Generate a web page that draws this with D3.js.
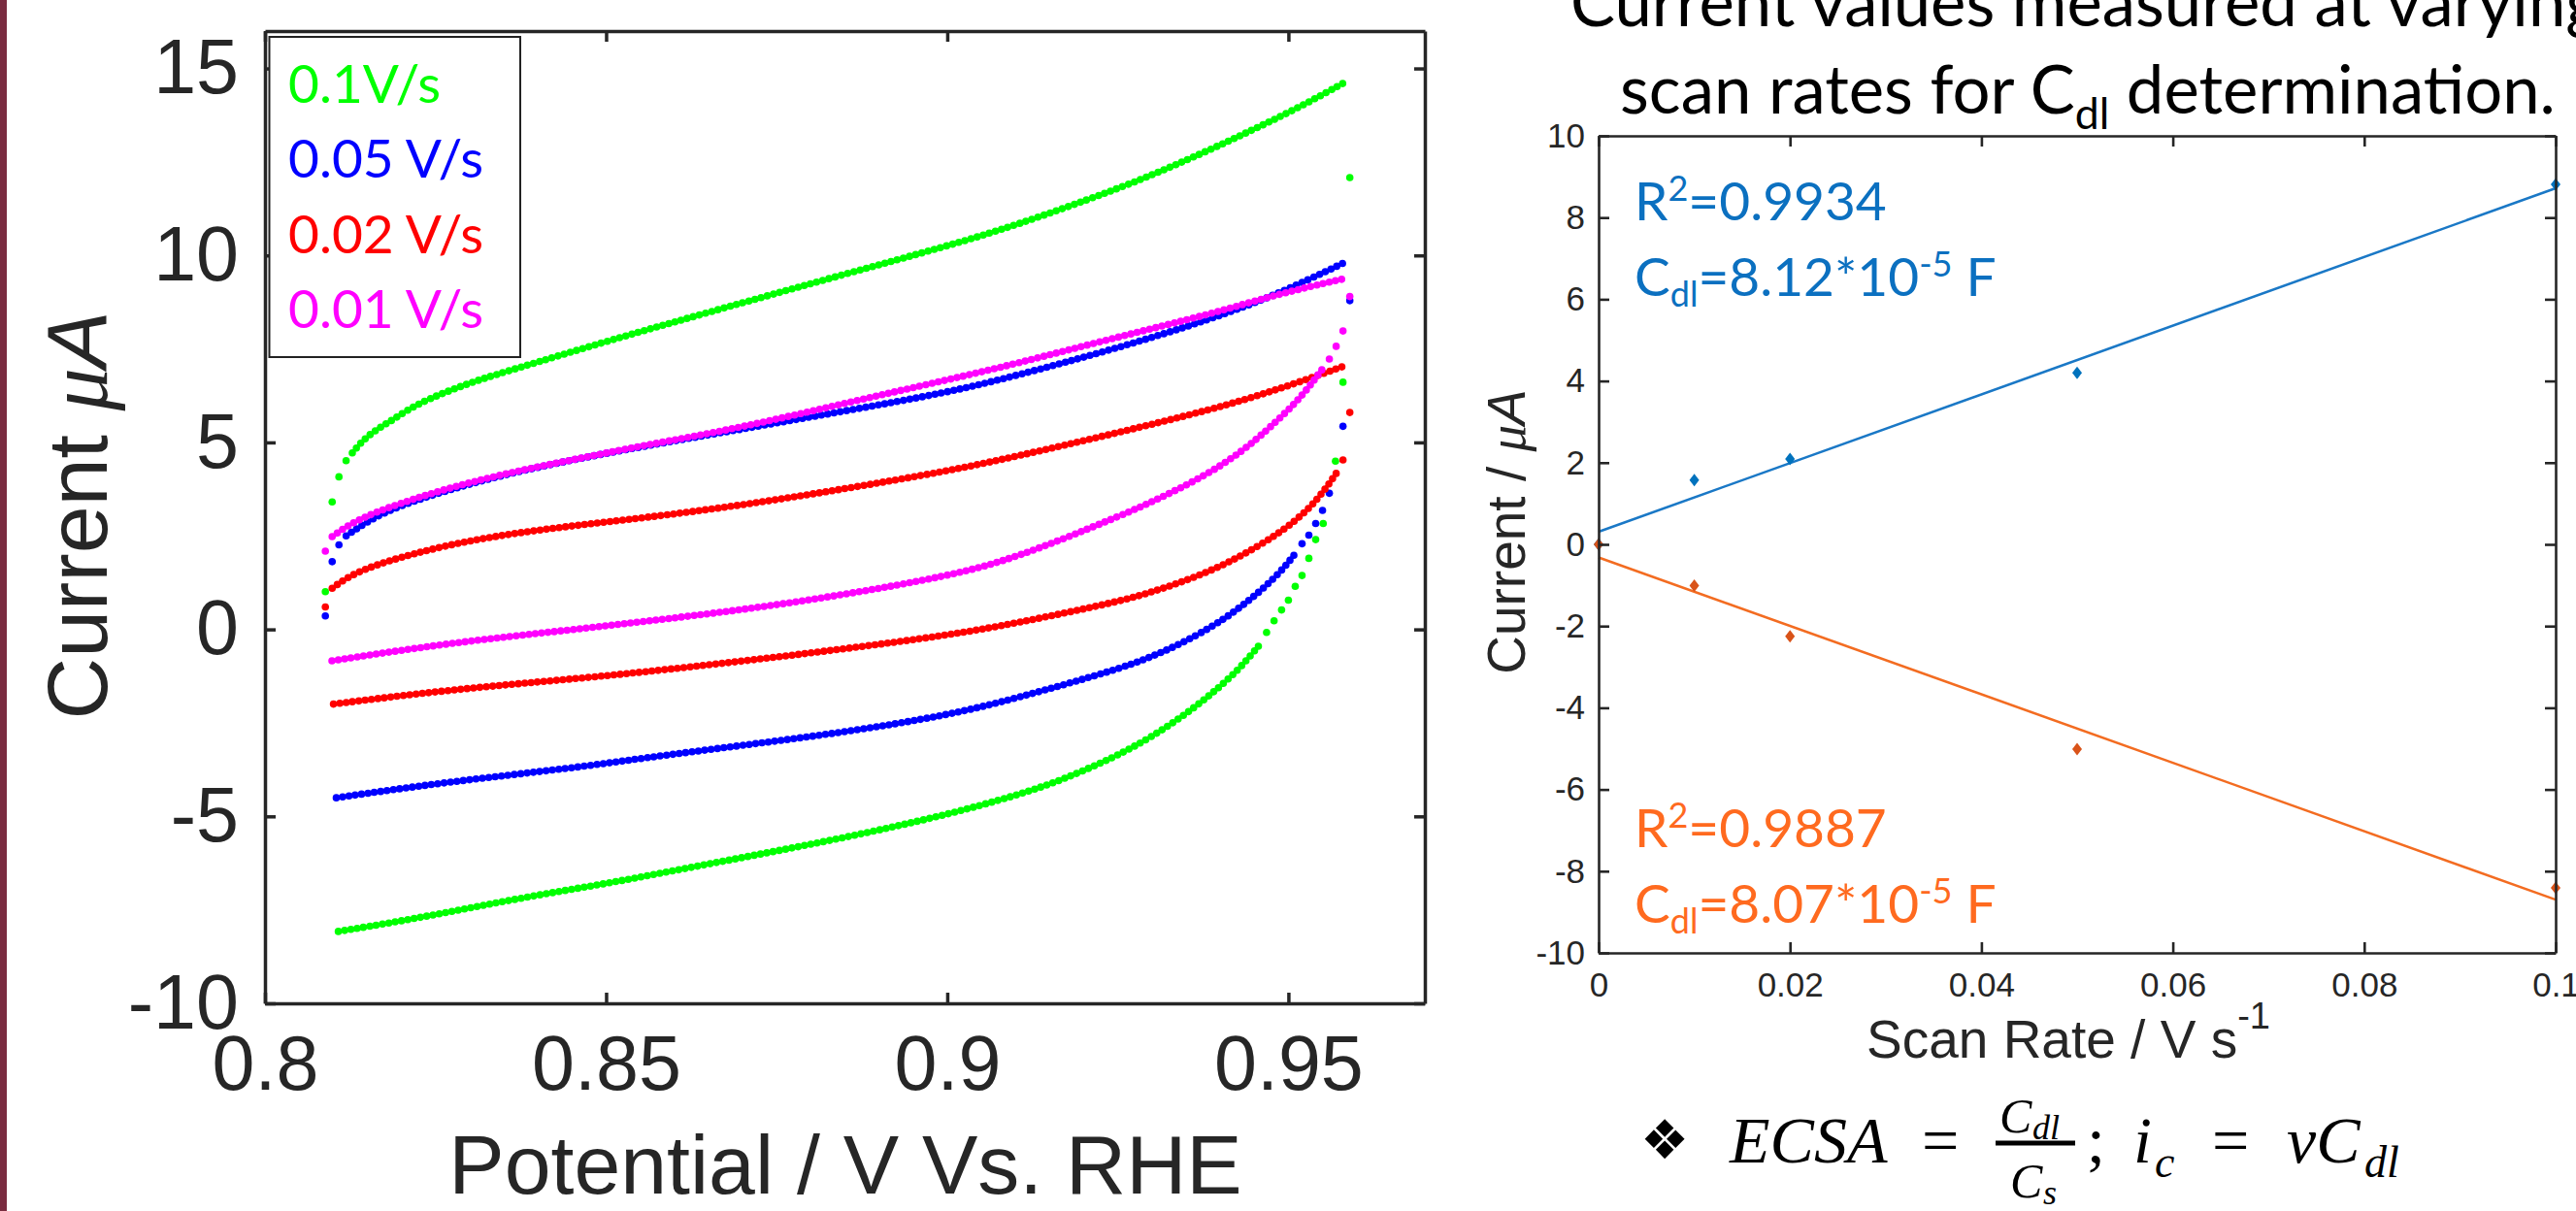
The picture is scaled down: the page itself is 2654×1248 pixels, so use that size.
<!DOCTYPE html>
<meta charset="utf-8">
<style>
body { margin: 0; background: #fff; }
svg { display: block; }
text { font-family: "Liberation Sans", Arial, sans-serif; fill: #262626; }
.cal { font-family: Lato, "Open Sans", sans-serif; }
.math { font-family: "Liberation Serif", serif; font-style: italic; fill: #000; }
</style>
<svg width="2654" height="1248"></svg>
<script src="https://d3js.org/d3.v7.min.js"></script>
<script>

// ---- left panel: CV curves, [potential V, current uA] ----
// sparse dots at the start, dense forward branch, sparse dots at the turn, dense reverse branch

var green_start = [[0.80885, 1.01], [0.80985, 3.41], [0.81084, 4.08], [0.81189, 4.51]];
var green_fwd = [[0.8128, 4.72], [0.8138, 4.94], [0.815, 5.16], [0.8169, 5.41], [0.819, 5.63], [0.8218, 5.98],
  [0.8266, 6.36], [0.8313, 6.67], [0.836, 6.93], [0.85, 7.7], [0.86, 8.22], [0.8703, 8.75], [0.885, 9.5],
  [0.9, 10.25], [0.91, 10.8], [0.9246, 11.75], [0.9317, 12.28], [0.9388, 12.85], [0.9435, 13.25],
  [0.951, 13.9], [0.958, 14.6]];
var green_turn = [[0.959, 12.08], [0.958, 6.61], [0.9569, 4.5], [0.9551, 2.83], [0.954, 2.4], [0.953, 1.9],
  [0.952, 1.44], [0.951, 1.15], [0.95, 0.78], [0.949, 0.52], [0.9479, 0.23], [0.9468, -0.08]];
var green_rev = [[0.9456, -0.45], [0.944, -0.8], [0.9426, -1.08], [0.9407, -1.41], [0.9388, -1.71],
  [0.936, -2.12], [0.9326, -2.56], [0.9293, -2.94], [0.9247, -3.4], [0.917, -4.02], [0.91, -4.45],
  [0.9, -4.95], [0.89, -5.37], [0.88, -5.75], [0.87, -6.1], [0.86, -6.45], [0.85, -6.8], [0.84, -7.1],
  [0.83, -7.45], [0.82, -7.8], [0.81, -8.1]];

var blue_start = [[0.80885, 0.36], [0.80985, 1.81], [0.81084, 2.26]];
var blue_fwd = [[0.8119, 2.5], [0.8171, 3.15], [0.8266, 3.72], [0.836, 4.18], [0.8455, 4.55], [0.855, 4.88],
  [0.87, 5.36], [0.885, 5.84], [0.9, 6.33], [0.91, 6.78], [0.9246, 7.5], [0.9388, 8.3], [0.9483, 8.95],
  [0.958, 9.79]];
var blue_turn = [[0.959, 8.79], [0.958, 5.43], [0.956, 3.64], [0.955, 3.18], [0.954, 2.83], [0.953, 2.52],
  [0.952, 2.29]];
var blue_rev = [[0.9508, 1.98], [0.9499, 1.77], [0.9487, 1.52], [0.9468, 1.18], [0.9445, 0.81], [0.9416, 0.41],
  [0.9388, 0.07], [0.934, -0.41], [0.9293, -0.78], [0.9246, -1.09], [0.91, -1.85], [0.9, -2.3],
  [0.885, -2.75], [0.87, -3.1], [0.855, -3.45], [0.8455, -3.7], [0.8266, -4.08], [0.8098, -4.52]];

var red_start = [[0.80885, 0.6]];
var red_fwd = [[0.80985, 1.1], [0.8124, 1.44], [0.8171, 1.79], [0.8266, 2.26], [0.836, 2.56], [0.8455, 2.78],
  [0.855, 2.97], [0.87, 3.32], [0.885, 3.76], [0.9, 4.23], [0.91, 4.62], [0.9246, 5.24], [0.9388, 5.88],
  [0.9483, 6.4], [0.958, 7.03]];
var red_turn = [[0.959, 5.8], [0.958, 4.53]];
var red_rev = [[0.957, 4.17], [0.956, 3.9], [0.9549, 3.64], [0.9539, 3.42], [0.953, 3.24], [0.9511, 2.92],
  [0.9483, 2.53], [0.9435, 2.0], [0.9388, 1.58], [0.934, 1.24], [0.9293, 0.96], [0.9246, 0.72],
  [0.91, 0.16], [0.9, -0.16], [0.885, -0.52], [0.87, -0.85], [0.855, -1.15], [0.8455, -1.32],
  [0.8266, -1.62], [0.8095, -2.01]];

var mag_start = [[0.80885, 2.09]];
var mag_fwd = [[0.80985, 2.48], [0.8124, 2.82], [0.8171, 3.21], [0.8266, 3.77], [0.836, 4.2], [0.8455, 4.55],
  [0.855, 4.9], [0.87, 5.4], [0.885, 6.05], [0.9, 6.67], [0.91, 7.1], [0.9246, 7.8], [0.9388, 8.44],
  [0.9483, 8.96], [0.958, 9.37]];
var mag_turn = [[0.959, 8.9], [0.958, 7.98], [0.957, 7.57], [0.956, 7.23]];
var mag_rev = [[0.9549, 6.94], [0.9539, 6.7], [0.953, 6.48], [0.9511, 6.07], [0.9492, 5.73], [0.9468, 5.32],
  [0.9435, 4.8], [0.9388, 4.22], [0.934, 3.76], [0.9293, 3.35], [0.9246, 2.98], [0.91, 1.9], [0.9, 1.42],
  [0.885, 0.93], [0.87, 0.52], [0.855, 0.2], [0.8455, 0.0], [0.8266, -0.37], [0.8095, -0.85]];

var legendLabels = ["0.1V/s", "0.05 V/s", "0.02 V/s", "0.01 V/s"];
var cvColors = ["#00ff00", "#0000ff", "#ff0000", "#ff00ff"];
var cvXTicks = [0.8, 0.85, 0.9, 0.95];
var cvYTicks = [-10, -5, 0, 5, 10, 15];

// ---- right panel: current vs scan rate ----
var scanRates = [0, 0.01, 0.02, 0.05, 0.1];
var anodic = [0, 1.575, 2.09, 4.2, 8.81];
var cathodic = [0, -1.01, -2.25, -5.01, -8.41];
var rateXTicks = [0, 0.02, 0.04, 0.06, 0.08, 0.1];
var rateYTicks = [-10, -8, -6, -4, -2, 0, 2, 4, 6, 8, 10];

var svg = d3.select("svg");

// maroon strip on the left edge
svg.append("rect").attr("x", 0).attr("y", 0).attr("width", 7).attr("height", 1248).attr("fill", "#7a2c40");

// ================= left panel =================
var L = {left: 273, right: 1468, top: 32, bottom: 1034};
var x1 = d3.scaleLinear().domain([0.8, 0.97]).range([L.left, L.right]);
var y1 = d3.scaleLinear().domain([-10, 16]).range([L.bottom, L.top]);

var series = [
  {color: cvColors[0], start: green_start, fwd: green_fwd, turn: green_turn, rev: green_rev},
  {color: cvColors[1], start: blue_start, fwd: blue_fwd, turn: blue_turn, rev: blue_rev},
  {color: cvColors[2], start: red_start, fwd: red_fwd, turn: red_turn, rev: red_rev},
  {color: cvColors[3], start: mag_start, fwd: mag_fwd, turn: mag_turn, rev: mag_rev}
];

var cvLine = d3.line()
    .x(function(d) { return x1(d[0]); })
    .y(function(d) { return y1(d[1]); })
    .curve(d3.curveBasis);

var gCv = svg.append("g");
series.forEach(function(s) {
  // dense sampled branches: a row of round dots along the curve
  [s.fwd, s.rev].forEach(function(branch) {
    gCv.append("path")
        .attr("d", cvLine(branch))
        .attr("fill", "none")
        .attr("stroke", s.color)
        .attr("stroke-width", 7.6)
        .attr("stroke-linecap", "round")
        .attr("stroke-dasharray", "0 6.6");
  });
  // sparse dots near the vertices
  gCv.selectAll(null)
      .data(s.start.concat(s.turn))
    .enter().append("circle")
      .attr("cx", function(d) { return x1(d[0]); })
      .attr("cy", function(d) { return y1(d[1]); })
      .attr("r", 3.8)
      .attr("fill", s.color);
});

function styleAxis(g, width, size) {
  g.attr("font-family", null).attr("font-size", null);
  g.selectAll("path, line").attr("stroke", "#262626").attr("stroke-width", width);
  g.selectAll("text").style("font-size", size + "px");
}
var fmt = function(d) { return String(d); };

svg.append("g").attr("transform", "translate(0," + L.bottom + ")")
    .call(d3.axisBottom(x1).tickValues(cvXTicks).tickFormat(fmt).tickSizeInner(-11).tickSizeOuter(0).tickPadding(33))
    .call(styleAxis, 3.5, 79);
svg.append("g").attr("transform", "translate(0," + L.top + ")")
    .call(d3.axisTop(x1).tickValues(cvXTicks).tickFormat("").tickSizeInner(-11).tickSizeOuter(0))
    .call(styleAxis, 3.5, 79);
svg.append("g").attr("transform", "translate(" + L.left + ",0)")
    .call(d3.axisLeft(y1).tickValues(cvYTicks).tickFormat(fmt).tickSizeInner(-11).tickSizeOuter(0).tickPadding(27))
    .call(styleAxis, 3.5, 79);
svg.append("g").attr("transform", "translate(" + L.right + ",0)")
    .call(d3.axisRight(y1).tickValues(cvYTicks).tickFormat("").tickSizeInner(-11).tickSizeOuter(0))
    .call(styleAxis, 3.5, 79);

// legend
svg.append("rect").attr("x", 277.5).attr("y", 38).attr("width", 258.5).attr("height", 330)
    .attr("fill", "#fff").attr("stroke", "#222").attr("stroke-width", 2);
svg.selectAll(".leg").data(legendLabels).enter().append("text")
    .attr("class", "cal")
    .attr("x", 297)
    .attr("y", function(d, i) { return 106 + i * 77.3; })
    .style("font-size", "55px")
    .style("fill", function(d, i) { return cvColors[i]; })
    .text(function(d) { return d; });

// axis titles
var yl = svg.append("text").attr("transform", "translate(110,531) rotate(-90)")
    .attr("text-anchor", "middle").style("font-size", "88px");
yl.append("tspan").text("Current ");
yl.append("tspan").style("font-family", "Liberation Serif").style("font-style", "italic").text("\u03bc");
yl.append("tspan").style("font-style", "italic").text("A");

svg.append("text").attr("x", 871).attr("y", 1230).attr("text-anchor", "middle")
    .style("font-size", "86px").text("Potential / V Vs. RHE");

// ================= right panel =================
var R = {left: 1647, right: 2633, top: 140, bottom: 982};
var x2 = d3.scaleLinear().domain([0, 0.1]).range([R.left, R.right]);
var y2 = d3.scaleLinear().domain([-10, 10]).range([R.bottom, R.top]);

function fit(xs, ys) {
  var mx = d3.mean(xs), my = d3.mean(ys);
  var sxy = d3.sum(xs, function(v, i) { return (v - mx) * (ys[i] - my); });
  var sxx = d3.sum(xs, function(v) { return (v - mx) * (v - mx); });
  var b = sxy / sxx;
  return {slope: b, icpt: my - b * mx};
}

var rateSeries = [
  {vals: anodic, line: "#1a78c6", mark: "#0072bd"},
  {vals: cathodic, line: "#f36c21", mark: "#d95319"}
];

var gRate = svg.append("g");
rateSeries.forEach(function(s) {
  var f = fit(scanRates, s.vals);
  var ends = [0, 0.1];
  gRate.append("path")
      .attr("d", d3.line()
        .x(function(d) { return x2(d); })
        .y(function(d) { return y2(f.icpt + f.slope * d); })(ends))
      .attr("fill", "none")
      .attr("stroke", s.line)
      .attr("stroke-width", 2.5);
});
rateSeries.forEach(function(s) {
  gRate.selectAll(null).data(scanRates).enter().append("path")
      .attr("transform", function(d, i) { return "translate(" + x2(d) + "," + y2(s.vals[i]) + ")"; })
      .attr("d", "M0,-6.5L5,0L0,6.5L-5,0Z")
      .attr("fill", s.mark);
});

svg.append("g").attr("transform", "translate(0," + R.bottom + ")")
    .call(d3.axisBottom(x2).tickValues(rateXTicks).tickFormat(fmt).tickSizeInner(-11).tickSizeOuter(0).tickPadding(20))
    .call(styleAxis, 2.6, 35);
svg.append("g").attr("transform", "translate(0," + R.top + ")")
    .call(d3.axisTop(x2).tickValues(rateXTicks).tickFormat("").tickSizeInner(-11).tickSizeOuter(0))
    .call(styleAxis, 2.6, 35);
svg.append("g").attr("transform", "translate(" + R.left + ",0)")
    .call(d3.axisLeft(y2).tickValues(rateYTicks).tickFormat(fmt).tickSizeInner(-11).tickSizeOuter(0).tickPadding(14))
    .call(styleAxis, 2.6, 35);
svg.append("g").attr("transform", "translate(" + R.right + ",0)")
    .call(d3.axisRight(y2).tickValues(rateYTicks).tickFormat("").tickSizeInner(-11).tickSizeOuter(0))
    .call(styleAxis, 2.6, 35);

var xl2 = svg.append("text").attr("x", 1923).attr("y", 1090).style("font-size", "55px");
xl2.append("tspan").text("Scan Rate / V s");
xl2.append("tspan").attr("dy", -30).style("font-size", "38px").text("-1");

var yl2 = svg.append("text").attr("transform", "translate(1571,548) rotate(-90)")
    .attr("text-anchor", "middle").style("font-size", "55px");
yl2.append("tspan").text("Current / ");
yl2.append("tspan").style("font-family", "Liberation Serif").style("font-style", "italic").text("\u03bc");
yl2.append("tspan").style("font-style", "italic").text("A");

// fit annotations
function annot(y, r2, cdl, color) {
  var t1 = svg.append("text").attr("class", "cal").attr("x", 1684).attr("y", y)
      .style("font-size", "55px").style("fill", color);
  t1.append("tspan").text("R");
  t1.append("tspan").attr("dy", -20).style("font-size", "36px").text("2");
  t1.append("tspan").attr("dy", 20).text("=" + r2);
  var t2 = svg.append("text").attr("class", "cal").attr("x", 1684).attr("y", y + 78)
      .style("font-size", "55px").style("fill", color);
  t2.append("tspan").text("C");
  t2.append("tspan").attr("dy", 11).style("font-size", "36px").text("dl");
  t2.append("tspan").attr("dy", -11).text("=" + cdl + "*10");
  t2.append("tspan").attr("dy", -20).style("font-size", "36px").text("-5");
  t2.append("tspan").attr("dy", 20).text(" F");
}
annot(227, "0.9934", "8.12", "#0b70c0");
annot(873, "0.9887", "8.07", "#ff6a1f");

// slide title above the right panel
function titleLine(y, parts) {
  var t = svg.append("text").attr("class", "cal").attr("x", 0).attr("y", y)
      .style("font-size", "68px").style("fill", "#000");
  parts.forEach(function(p) {
    t.append("tspan").attr("dy", p.dy || 0).style("font-size", p.size ? p.size + "px" : null).text(p.s);
  });
  return t;
}
var t2 = titleLine(117, [{s: "scan rates for C"}, {s: "dl", dy: 16, size: 44}, {s: " determination.", dy: -16}]);
var w2 = t2.node().getComputedTextLength();
var k = 964 / w2;
t2.style("font-size", 68 * k + "px").attr("x", 1669);
t2.selectAll("tspan").filter(function(d, i) { return i === 1; }).style("font-size", 44 * k + "px");
var t1 = titleLine(27, [{s: "Current values measured at varying"}]);
t1.style("font-size", 68 * k + "px").attr("x", 1618);

// ECSA formula under the right panel
svg.append("text").attr("x", 1690).attr("y", 1194).style("font-family", "DejaVu Sans")
    .style("font-size", "56px").style("fill", "#000").text("\u2756");
function mt(x, y, s, size, italic) {
  svg.append("text").attr("class", "math").attr("x", x).attr("y", y)
      .style("font-size", size + "px").style("font-style", italic === false ? "normal" : "italic").text(s);
}
mt(1782, 1198, "ECSA", 68);
mt(1980, 1198, "=", 68, false);
mt(2060, 1167, "C", 50);
mt(2094, 1174, "dl", 36);
svg.append("line").attr("x1", 2056).attr("x2", 2138).attr("y1", 1178).attr("y2", 1178)
    .attr("stroke", "#000").attr("stroke-width", 5);
mt(2071, 1234, "C", 50);
mt(2105, 1241, "s", 36);
mt(2150, 1198, ";", 68, false);
mt(2198, 1198, "i", 68);
mt(2220, 1213, "c", 46);
mt(2279, 1198, "=", 68, false);
mt(2356, 1198, "vC", 68);
mt(2436, 1213, "dl", 46);

</script>
